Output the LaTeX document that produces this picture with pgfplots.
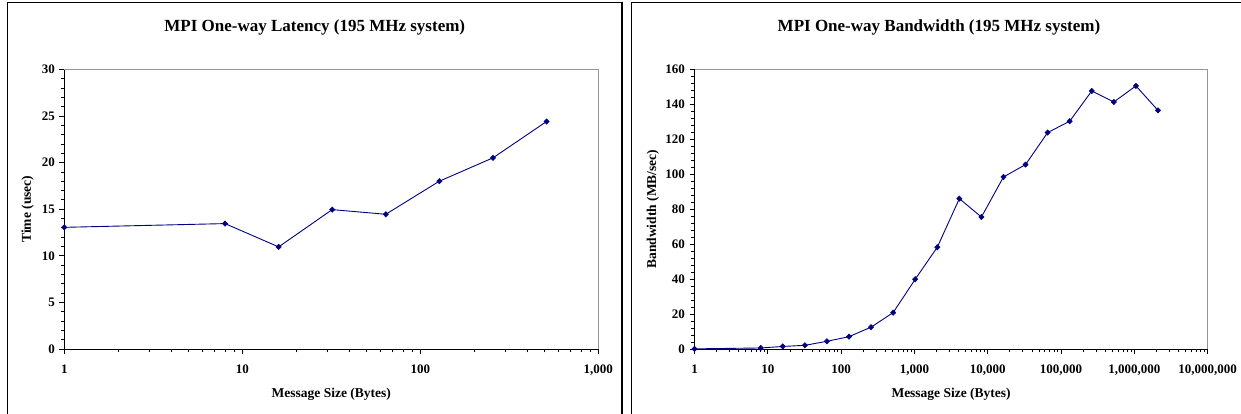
\documentclass[border=0pt]{standalone}
\usepackage{fontspec}
\setmainfont{Liberation Serif}
\usepackage{pgfplots}
\pgfplotsset{compat=1.18}

\definecolor{seriesblue}{RGB}{0,0,128}
\definecolor{plotframe}{RGB}{150,150,150}

% Latency: message size (bytes) vs one-way time (usec)
\pgfplotstableread{
size  time
1     13.05
8     13.45
16    10.95
32    14.95
64    14.45
128   18.00
256   20.50
512   24.40
}\latencydata

% Bandwidth: message size (bytes) vs MB/sec
\pgfplotstableread{
size     bw
1        0.08
8        0.59
16       1.46
32       2.10
64       4.40
128      7.05
256      12.5
512      20.8
1024     39.9
2048     58.2
4096     86.0
8192     75.5
16384    98.4
32768    105.5
65536    123.8
131072   130.3
262144   147.6
524288   141.3
1048576  150.5
2097152  136.5
}\bandwidthdata

\pgfplotsset{
  sheetchart/.style={
    scale only axis,
    height=279.7pt,
    axis x line*=bottom,
    axis y line*=left,
    axis line style={black, line width=0.9pt, -},
    tick align=outside,
    major tick length=5pt,
    minor tick length=3.5pt,
    tick style={black, line width=0.7pt},
    ticklabel style={font=\bfseries\fontsize{13}{15}\selectfont, text=black},
    xticklabel style={yshift=-7pt},
    yticklabel style={xshift=-1pt},
    /pgf/number format/assume math mode=true,
    label style={font=\bfseries\fontsize{13.5}{16}\selectfont},
    every axis title shift=0pt,
    title style={font=\bfseries\fontsize{17}{20}\selectfont, anchor=center},
    xlabel style={at={(axis description cs:0.5,-0.161)}, anchor=center},
    clip=false,
    every axis plot post/.append style={seriesblue, line width=0.9pt, mark=diamond*,
      mark size=2.7pt, mark options={solid, fill=seriesblue, line width=0.5pt, xscale=1.3}},
    after end axis/.code={\draw[plotframe, line width=0.8pt]
      (rel axis cs:0,1) -- (rel axis cs:1,1) -- (rel axis cs:1,0);},
  }
}

\begin{document}
\begin{tikzpicture}
\useasboundingbox (0,0) rectangle (1241pt,414pt);

% chart area frames
\draw[black, line width=1.4pt] (7.3pt,0) |- (622pt,411.3pt) -- (622pt,0);
\draw[black, line width=1.4pt] (631.3pt,0) |- (1241pt,411.3pt);

\begin{semilogxaxis}[
  sheetchart,
  at={(64.3pt,65pt)}, anchor=south west,
  width=534pt,
  xmin=1, xmax=1000,
  ymin=0, ymax=30,
  xtick={1,10,100,1000},
  xticklabels={1,10,100,{1,000}},
  minor xtick={2,3,4,5,6,7,8,9,20,30,40,50,60,70,80,90,200,300,400,500,600,700,800,900},
  ytick={0,5,10,15,20,25,30},
  minor y tick num=4,
  title={MPI One-way Latency (195 MHz system)},
  title style={at={(axis description cs:0.469,1.151)}},
  xlabel={Message Size (Bytes)},
  ylabel={Time (usec)},
  ylabel style={at={(axis description cs:-0.0685,0.5)}, anchor=center},
]
\addplot table[x=size, y=time] {\latencydata};
\end{semilogxaxis}

\begin{semilogxaxis}[
  sheetchart,
  at={(694.5pt,65pt)}, anchor=south west,
  width=513.2pt,
  xmin=1, xmax=1e7,
  ymin=0, ymax=160,
  xtick={1,10,100,1000,1e4,1e5,1e6,1e7},
  xticklabels={1,10,100,{1,000},{10,000},{100,000},{1,000,000},{10,000,000}},
  minor xtick={2,3,4,5,6,7,8,9,
    20,30,40,50,60,70,80,90,
    200,300,400,500,600,700,800,900,
    2000,3000,4000,5000,6000,7000,8000,9000,
    2e4,3e4,4e4,5e4,6e4,7e4,8e4,9e4,
    2e5,3e5,4e5,5e5,6e5,7e5,8e5,9e5,
    2e6,3e6,4e6,5e6,6e6,7e6,8e6,9e6},
  ytick={0,20,40,60,80,100,120,140,160},
  minor y tick num=4,
  title={MPI One-way Bandwidth (195 MHz system)},
  title style={at={(axis description cs:0.4764,1.151)}},
  xlabel={Message Size (Bytes)},
  ylabel={Bandwidth (MB/sec)},
  ylabel style={at={(axis description cs:-0.081,0.5)}, anchor=center},
]
\addplot table[x=size, y=bw] {\bandwidthdata};
\end{semilogxaxis}
\end{tikzpicture}
\end{document}
